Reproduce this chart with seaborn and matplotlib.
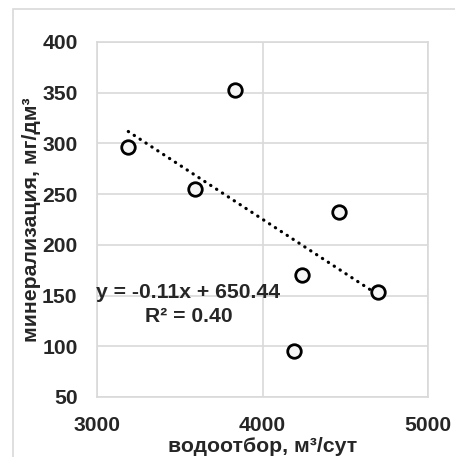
import numpy as np
import pandas as pd
import matplotlib
matplotlib.use("Agg")
import matplotlib.pyplot as plt
import seaborn as sns
from matplotlib.patches import Rectangle

# data
water_intake = [3189, 3592, 3832, 4462, 4239, 4190, 4700]
mineralization = [296.4, 254.6, 352.6, 231.9, 170.1, 95.7, 153.6]
x_ticks = [3000, 4000, 5000]
y_ticks = [50, 100, 150, 200, 250, 300, 350, 400]
eq_text = "y = -0.11x + 650.44"
r2_text = "R² = 0.40"
x_label = "водоотбор, м³/сут"
y_label = "минерализация, мг/дм³"

df = pd.DataFrame({"x": water_intake, "y": mineralization})

sns.set_style("white")
plt.rcParams["font.family"] = ["Liberation Sans", "DejaVu Sans"]

fig = plt.figure(figsize=(4.55, 4.57), dpi=100)
ax = fig.add_axes([0.2132, 0.1313, 0.7275, 0.7768])

grid_c = "#d9d9d9"
# outer border
fig.patches.append(Rectangle((13 / 455, -0.1), 1.2, 1 - 9 / 457 + 0.1, transform=fig.transFigure,
                             fill=False, edgecolor=grid_c, linewidth=1.2, zorder=0))

# trendline
coef = np.polyfit(df["x"], df["y"], 1)
tx = np.array([df["x"].min(), df["x"].max()])
ty = np.polyval(coef, tx)
trend = pd.DataFrame({"x": tx, "y": ty})
sns.lineplot(data=trend, x="x", y="y", ax=ax, color="black", linewidth=2.3,
             linestyle=(0, (0.1, 2.1)), dash_capstyle="round", zorder=3)

sns.scatterplot(data=df, x="x", y="y", ax=ax, s=95, marker="o", facecolor="#f5f5f5",
                edgecolor="black", linewidth=2.0, zorder=4)

ax.set_xlim(3000, 5000)
ax.set_ylim(50, 400)
ax.set_xticks(x_ticks)
ax.set_yticks(y_ticks)
ax.grid(True, color=grid_c, linewidth=1.2)
ax.set_axisbelow(True)
for sp in ax.spines.values():
    sp.set_color(grid_c)
    sp.set_linewidth(1.2)
ax.tick_params(axis="both", length=0, labelsize=15.2)
ax.tick_params(axis="x", pad=14)
ax.tick_params(axis="y", pad=14)
for lab in ax.get_xticklabels() + ax.get_yticklabels():
    lab.set_fontweight("bold")

ax.set_xlabel(x_label, fontsize=15.3, fontweight="bold", labelpad=1)
ax.set_ylabel(y_label, fontsize=15.3, fontweight="bold", labelpad=1)

ax.text(188 / 455, 1 - 293 / 457, eq_text, transform=fig.transFigure, ha="center", va="center",
        fontsize=15.2, fontweight="bold", zorder=5)
ax.text(189 / 455, 1 - 317 / 457, r2_text, transform=fig.transFigure, ha="center", va="center",
        fontsize=15.2, fontweight="bold", zorder=5)

fig.savefig("out.png", dpi=100)
